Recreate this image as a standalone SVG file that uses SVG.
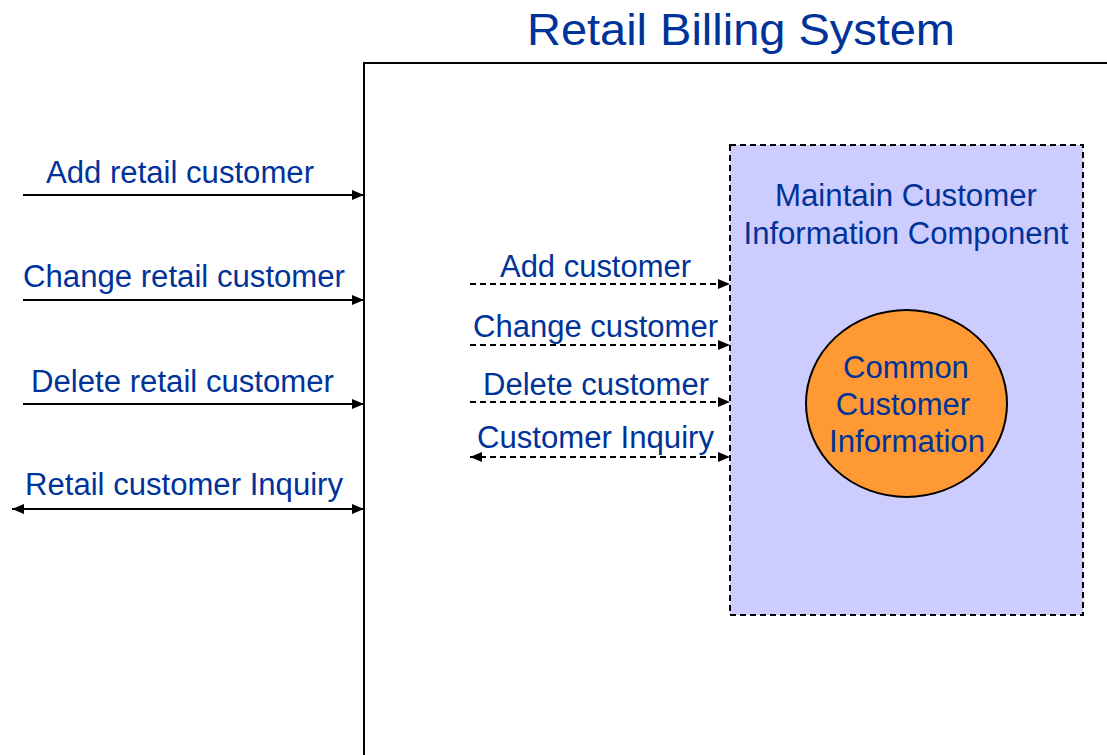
<svg xmlns="http://www.w3.org/2000/svg" width="1107" height="755" viewBox="0 0 1107 755">
<style>
.t{font-family:"Liberation Sans",Arial,sans-serif;fill:#003399;font-size:31px;text-anchor:middle}
.s{stroke:#000;stroke-width:2;fill:none}
.d{stroke:#000;stroke-width:2;fill:none;stroke-dasharray:6 4}
</style>
<defs>
<marker id="ah" viewBox="0 0 12 10" refX="12" refY="5" markerWidth="12" markerHeight="10" markerUnits="userSpaceOnUse" orient="auto-start-reverse">
<path d="M0,0 L12,5 L0,10 Z" fill="#000"/>
</marker>
</defs>
<rect width="1107" height="755" fill="#fff"/>
<g id="title"><text class="t" x="741" y="45" style="font-size:45px" textLength="428" lengthAdjust="spacingAndGlyphs">Retail Billing System</text></g>
<g id="system"><path d="M364,755 L364,63 L1107,63" class="s"/></g>
<g id="component">
<rect x="730" y="145" width="353" height="470" class="d" style="fill:#CCCCFF"/>
<text class="t" x="906" y="206" textLength="262" lengthAdjust="spacingAndGlyphs">Maintain Customer</text>
<text class="t" x="906" y="244" textLength="325" lengthAdjust="spacingAndGlyphs">Information Component</text>
</g>
<g id="common">
<ellipse cx="906.5" cy="403.5" rx="100.5" ry="93.5" fill="#FF9933" stroke="#000" stroke-width="2"/>
<text class="t" x="906" y="378">Common</text>
<text class="t" x="903" y="415">Customer</text>
<text class="t" x="907" y="452" textLength="156" lengthAdjust="spacingAndGlyphs">Information</text>
</g>
<g id="connectors">
<line x1="23" y1="195" x2="364" y2="195" class="s" marker-end="url(#ah)"/>
<line x1="23" y1="300" x2="364" y2="300" class="s" marker-end="url(#ah)"/>
<line x1="23" y1="404" x2="364" y2="404" class="s" marker-end="url(#ah)"/>
<line x1="12" y1="509" x2="364" y2="509" class="s" marker-start="url(#ah)" marker-end="url(#ah)"/>
<line x1="470" y1="284" x2="730" y2="284" class="d" marker-end="url(#ah)"/>
<line x1="470" y1="345" x2="730" y2="345" class="d" marker-end="url(#ah)"/>
<line x1="470" y1="402" x2="730" y2="402" class="d" marker-end="url(#ah)"/>
<line x1="470" y1="457" x2="730" y2="457" class="d" marker-start="url(#ah)" marker-end="url(#ah)"/>
</g>
<g id="labels">
<text class="t" x="180" y="183" textLength="268" lengthAdjust="spacingAndGlyphs">Add retail customer</text>
<text class="t" x="184" y="287" textLength="322" lengthAdjust="spacingAndGlyphs">Change retail customer</text>
<text class="t" x="182.5" y="392" textLength="303" lengthAdjust="spacingAndGlyphs">Delete retail customer</text>
<text class="t" x="184" y="495" textLength="318" lengthAdjust="spacingAndGlyphs">Retail customer Inquiry</text>
<text class="t" x="595.5" y="277" textLength="191" lengthAdjust="spacingAndGlyphs">Add customer</text>
<text class="t" x="595.5" y="337" textLength="245" lengthAdjust="spacingAndGlyphs">Change customer</text>
<text class="t" x="596" y="395" textLength="226" lengthAdjust="spacingAndGlyphs">Delete customer</text>
<text class="t" x="595.5" y="448" textLength="237" lengthAdjust="spacingAndGlyphs">Customer Inquiry</text>
</g>
</svg>
